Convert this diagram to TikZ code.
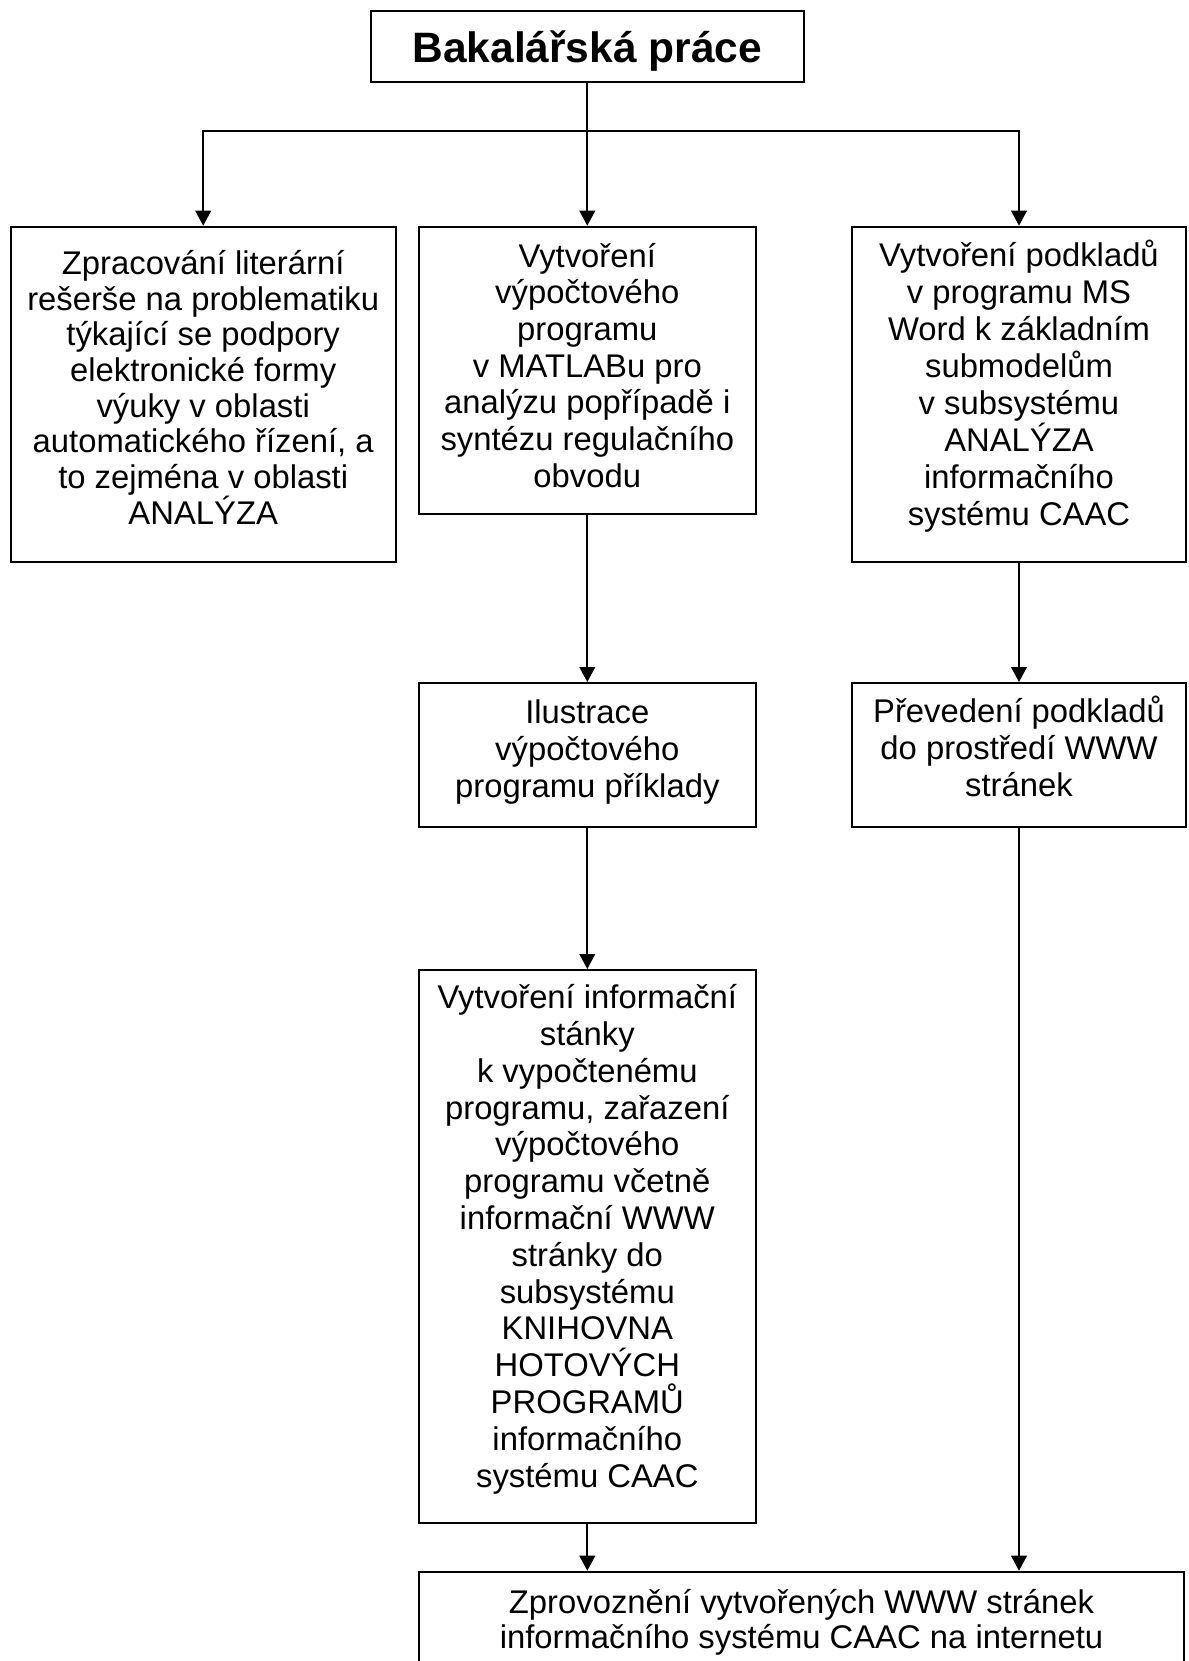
\documentclass[tikz,border=0pt]{standalone}
\usepackage{fontspec}
\setmainfont{Liberation Sans}
\usetikzlibrary{arrows.meta}

\begin{document}
\begin{tikzpicture}[x=0.5pt, y=-0.5pt,
    box/.style={draw=black, line width=1pt, rectangle, inner sep=0pt, fill=white},
    txt/.style={anchor=north, inner sep=0pt, align=center,
                font=\fontsize{16.4pt}{#1}\selectfont},
    txt/.default={18.3pt},
    link/.style={draw=black, line width=1pt},
    arr/.style={link, -{Triangle[width=7.8pt, length=7.5pt]}}]
  \useasboundingbox (0,0) rectangle (1189,1661);
  \clip (0,0) rectangle (1189,1661);
  \fill[white] (0,0) rectangle (1189,1661);

  % boxes
  \node[box, minimum width=216.3pt, minimum height=35.8pt]  (ttl)   at (587.3, 46.5)   {};
  \node[box, minimum width=192.5pt, minimum height=167.8pt] (lit)   at (203.2, 394.5)  {};
  \node[box, minimum width=168.35pt, minimum height=143.8pt] (prog) at (587.3, 370.5)  {};
  \node[box, minimum width=167pt, minimum height=167.8pt]   (word)  at (1019, 394.5)   {};
  \node[box, minimum width=168.35pt, minimum height=71.85pt] (ilu)  at (587.3, 754.85) {};
  \node[box, minimum width=167pt, minimum height=71.85pt]   (www)   at (1019, 754.85)  {};
  \node[box, minimum width=168.35pt, minimum height=276.5pt] (info) at (587.3, 1246.5) {};
  \node[box, minimum width=382.5pt, minimum height=74.15pt] (net)   at (801.5, 1645.85){};

  % texts
  \node[anchor=base, inner sep=0pt, font=\bfseries\fontsize{21.25pt}{25pt}\selectfont]
    (ttlT) at (587.3, 62.7) {Bakalářská práce};
  \node[txt=17.85pt] (litT) at (203.2, 246) {\rule{0pt}{14pt}Zpracování literární\\rešerše na problematiku\\týkající se podpory\\elektronické formy\\výuky v oblasti\\automatického řízení, a\\to zejména v oblasti\\ANALÝZA};
  \node[txt=18.35pt] (progT) at (587.3, 238.7) {\rule{0pt}{14pt}Vytvoření\\výpočtového\\programu\\v MATLABu pro\\analýzu popřípadě i\\syntézu regulačního\\obvodu};
  \node[txt=18.5pt] (wordT) at (1019, 237.7) {\rule{0pt}{14pt}Vytvoření podkladů\\v programu MS\\Word k základním\\submodelům\\v subsystému\\ANALÝZA\\informačního\\systému CAAC};
  \node[txt=18.35pt] (iluT) at (587.3, 695.3) {\rule{0pt}{14pt}Ilustrace\\výpočtového\\programu příklady};
  \node[txt=18.6pt] (wwwT) at (1019, 693.7) {\rule{0pt}{14pt}Převedení podkladů\\do prostředí WWW\\stránek};
  \node[txt=18.4pt] (infoT) at (587.3, 980.3) {\rule{0pt}{14pt}Vytvoření informační\\stánky\\k vypočtenému\\programu, zařazení\\výpočtového\\programu včetně\\informační WWW\\stránky do\\subsystému\\KNIHOVNA\\HOTOVÝCH\\PROGRAMŮ\\informačního\\systému CAAC};
  \node[txt=17.5pt] (netT) at (801.5, 1585) {\rule{0pt}{14pt}Zprovoznění vytvořených WWW stránek\\informačního systému CAAC na internetu};

  % connectors
  \coordinate (split) at (587.3, 130.7);
  \draw[arr] (ttl.south) -- (prog.north);
  \draw[arr] (split) -| (lit.north);
  \draw[arr] (split) -| (word.north);
  \draw[arr] (prog.south) -- (ilu.north);
  \draw[arr] (word.south) -- (www.north);
  \draw[arr] (ilu.south) -- (info.north);
  \draw[arr] (info.south) -- (info.south |- net.north);
  \draw[arr] (www.south) -- (www.south |- net.north);
\end{tikzpicture}
\end{document}
